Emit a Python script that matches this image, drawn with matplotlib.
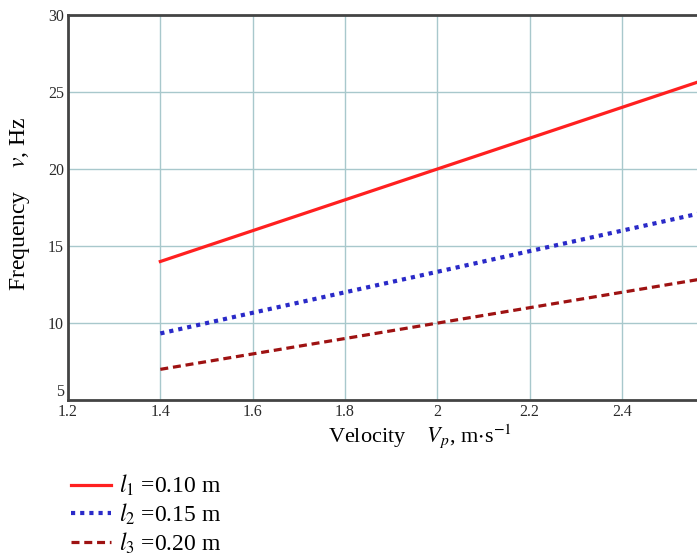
import matplotlib.pyplot as plt

# data
vp = [1.4, 1.6, 1.8, 2.0, 2.2, 2.4, 2.6]
freq_l1 = [14.0, 16.0, 18.0, 20.0, 22.0, 24.0, 26.0]
freq_l2 = [9.33, 10.67, 12.0, 13.33, 14.67, 16.0, 17.33]
freq_l3 = [7.0, 8.0, 9.0, 10.0, 11.0, 12.0, 13.0]
labels = [r'$l_1$ =0.10 m', r'$l_2$ =0.15 m', r'$l_3$ =0.20 m']
x_ticks = [1.2, 1.4, 1.6, 1.8, 2.0, 2.2, 2.4]
x_ticklabels = ['1.2', '1.4', '1.6', '1.8', '2', '2.2', '2.4']
y_ticks = [5, 10, 15, 20, 25, 30]

plt.rcParams['font.family'] = ['Liberation Serif', 'DejaVu Serif']
plt.rcParams['mathtext.fontset'] = 'stix'

fig = plt.figure(figsize=(6.97, 5.55), dpi=100)
# axes runs past the right edge, as in the cropped original
ax = fig.add_axes([0.0976, 0.279, 0.927, 0.694])

ax.plot(vp, freq_l1, color='#ff2020', lw=2.3, ls='-', label=labels[0])
ax.plot(vp, freq_l2, color='#2a2ac8', lw=3, ls=(0, (1, 1.2)), label=labels[1])
ax.plot(vp, freq_l3, color='#9e1212', lw=2.3, ls=(0, (2.5, 1.5)), label=labels[2])

ax.set_xlim(1.2, 2.6)
ax.set_ylim(5, 30)
ax.set_xticks(x_ticks)
ax.set_xticklabels(x_ticklabels)
ax.set_yticks(y_ticks)
ax.tick_params(length=0, labelsize=11.5, pad=3, colors='#2a2a2a')
# the "5" sits a little above the corner
ax.get_yticklabels()[0].set_va('bottom')
ax.grid(True, color='#a8c8cc', lw=1)
ax.set_axisbelow(True)
for s in ['left', 'top', 'bottom']:
    ax.spines[s].set_color('#444444')
    ax.spines[s].set_linewidth(2)
ax.spines['right'].set_visible(False)

ax.set_xlabel(r'Velocity    $V_p$, m$\cdot$s$^{-1}$', fontsize=16)
ax.set_ylabel(r'Frequency    $v$, Hz', fontsize=17)
ax.xaxis.set_label_coords(0.545, -0.056)
ax.yaxis.set_label_coords(-0.056, 0.51)

fig.legend(loc='upper left', bbox_to_anchor=(0.088, 0.165), frameon=False,
           fontsize=17, handlelength=1.7, handletextpad=0.35, labelspacing=0.15,
           borderaxespad=0)

plt.savefig('out.png', dpi=100)
